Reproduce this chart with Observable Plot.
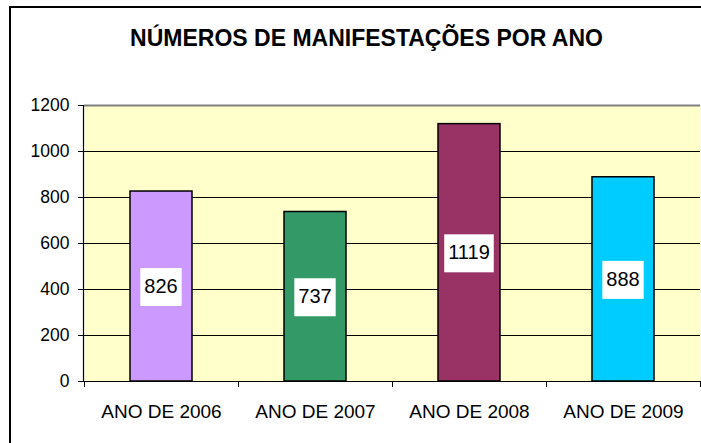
<!DOCTYPE html>
<html>
<head>
<meta charset="utf-8">
<script src="https://cdn.jsdelivr.net/npm/d3@7"></script>
<script src="https://cdn.jsdelivr.net/npm/@observablehq/plot@0.6"></script>
<style>
  body { margin: 0; background: #fff; font-family: "Liberation Sans", Arial, sans-serif; }
  #wrap { position: relative; width: 701px; height: 443px; overflow: hidden; background: #fff; }
  #frame { position: absolute; left: 9px; top: 6px; width: 900px; height: 700px;
           border-left: 2px solid #000; border-top: 2px solid #000; pointer-events: none; }
  #title { height: 60px; width: 733px; text-align: center; font-weight: bold; font-size: 23px;
           line-height: 23px; padding-top: 0; box-sizing: border-box; }
  #title span { display: inline-block; margin-top: 27px; }
  #chart svg { display: block; }
</style>
</head>
<body>
<div id="wrap">
  <div id="title"><span>NÚMEROS DE MANIFESTAÇÕES POR ANO</span></div>
  <div id="chart"></div>
  <div id="frame"></div>
</div>
<script>
const categories = ["ANO DE 2006", "ANO DE 2007", "ANO DE 2008", "ANO DE 2009"];
const values = [826, 737, 1119, 888];
const colors = ["#CC99FF", "#339966", "#993366", "#00CCFF"];
const yTicks = [0, 200, 400, 600, 800, 1000, 1200];

const data = categories.map((c, i) => ({cat: c, value: values[i]}));

const FONT = "'Liberation Sans', Arial, sans-serif";
const LABEL_SIZE = 20;

function boundaryMarks(index, scales, vals, dims) {
  const x = scales.x, y = scales.y;
  const g = d3.create("svg:g").attr("aria-label", "category-boundaries");
  const bw = x.bandwidth();
  const step = x.step ? x.step() : bw / 0.4;
  const bounds = categories.map(c => x(c) - (step - bw) / 2);
  bounds.push(x(categories[categories.length - 1]) + bw + (step - bw) / 2);
  const y0 = y(0);
  g.selectAll("line.tick").data(bounds).join("line")
    .attr("x1", d => Math.round(d) + 0.5).attr("x2", d => Math.round(d) + 0.5)
    .attr("y1", y0).attr("y2", y0 + 6)
    .attr("stroke", "#000").attr("stroke-width", 1);
  g.append("line")
    .attr("x1", dims.marginLeft - 0.5).attr("x2", dims.marginLeft - 0.5)
    .attr("y1", y(1200)).attr("y2", y0 + 0.5)
    .attr("stroke", "#000").attr("stroke-width", 1.2);
  return g.node();
}

function valueLabels(index, scales, vals, dims) {
  const x = scales.x, y = scales.y;
  const bw = x.bandwidth();
  const ctx = document.createElement("canvas").getContext("2d");
  ctx.font = `${LABEL_SIZE}px ${FONT}`;
  const g = d3.create("svg:g").attr("aria-label", "value-labels");
  const padX = 4, h = 38;
  data.forEach(d => {
    const cx = x(d.cat) + bw / 2;
    const cy = y(d.value / 2);
    const txt = String(d.value);
    const w = ctx.measureText(txt).width;
    g.append("rect")
      .attr("x", cx - w / 2 - padX).attr("y", cy - h / 2 + 1)
      .attr("width", w + 2 * padX).attr("height", h)
      .attr("fill", "#fff");
    g.append("text")
      .attr("x", cx).attr("y", cy)
      .attr("text-anchor", "middle").attr("dy", "0.35em")
      .attr("font-family", FONT).attr("font-size", LABEL_SIZE)
      .attr("fill", "#000")
      .text(txt);
  });
  return g.node();
}

const plot = Plot.plot({
  width: 701,
  height: 383,
  marginTop: 45,
  marginLeft: 84,
  marginRight: 1,
  marginBottom: 62,
  style: {fontFamily: FONT, fontSize: "17.5px", color: "#000", background: "transparent"},
  x: {domain: categories, paddingInner: 0.6, paddingOuter: 0.3, align: 0.5, label: null, tickSize: 0, tickPadding: 23},
  y: {domain: [0, 1200], ticks: yTicks, tickFormat: d => String(d), label: null, tickSize: 6, tickPadding: 9},
  color: {domain: categories, range: colors},
  marks: [
    Plot.frame({fill: "#FFFFCC", stroke: null}),
    Plot.ruleY(yTicks.filter(d => d > 0 && d < 1200), {stroke: "#000", strokeWidth: 1}),
    Plot.ruleY([1200], {stroke: "#808080", strokeWidth: 2}),
    Plot.barY(data, {x: "cat", y: "value", fill: "cat", stroke: "#000", strokeWidth: 1.5}),
    Plot.ruleY([0], {stroke: "#000", strokeWidth: 1}),
    boundaryMarks,
    valueLabels
  ]
});

document.getElementById("chart").appendChild(plot);

const catSet = new Set(categories);
plot.querySelectorAll("text").forEach(t => {
  if (catSet.has(t.textContent)) t.style.fontSize = "19px";
});
</script>
</body>
</html>
